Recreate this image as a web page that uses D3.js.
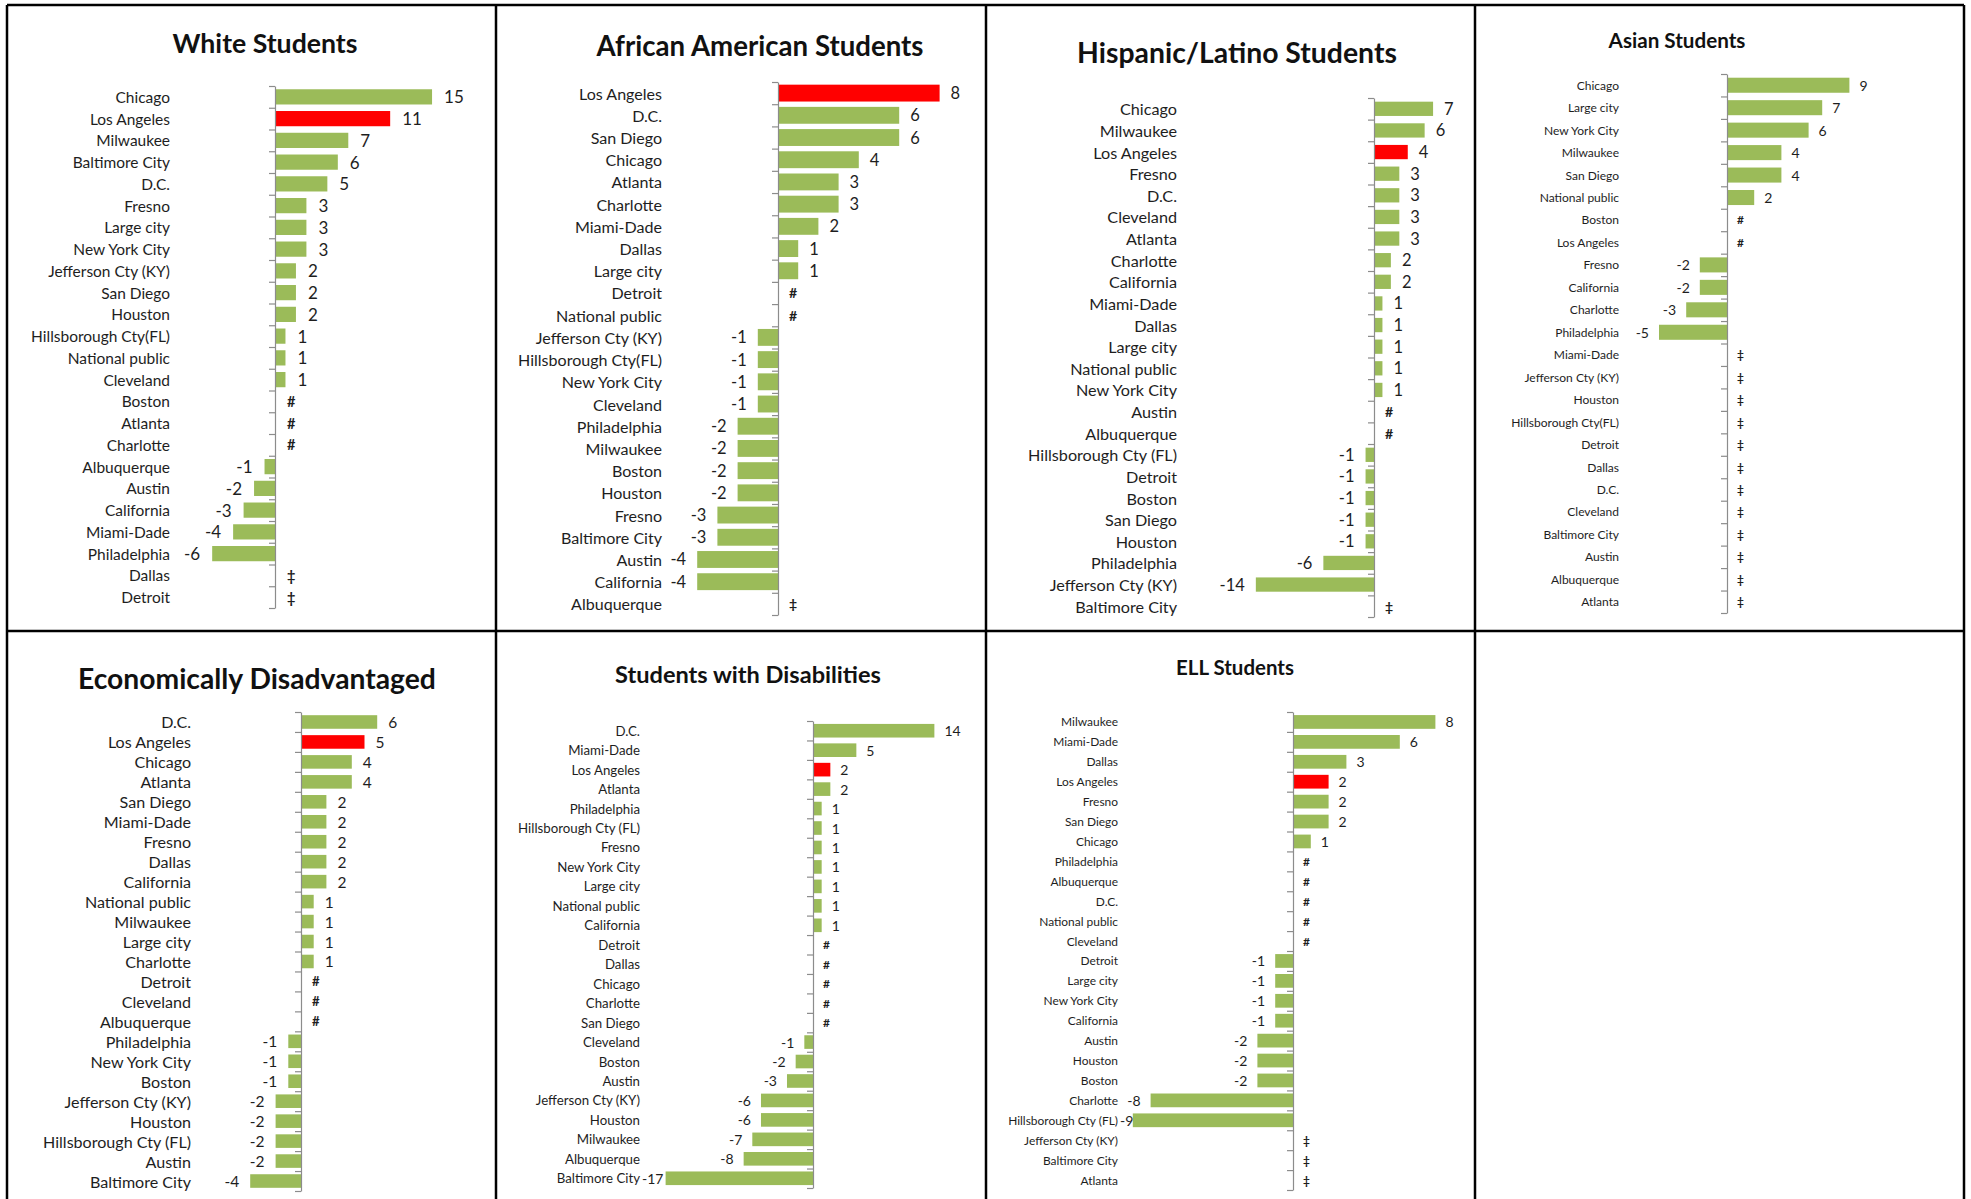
<!DOCTYPE html>
<html><head><meta charset="utf-8">
<script src="https://cdn.jsdelivr.net/npm/d3@7"></script>
<style>
body{margin:0;background:#fff}
svg{display:block}
text{font-family:Lato,"Open Sans","Liberation Sans",sans-serif}
</style>
</head><body>
<svg id="c" width="1971" height="1199"></svg>
<script>
// ---------- DATA ----------
const titles = ["White Students","African American Students","Hispanic/Latino Students","Asian Students",
  "Economically Disadvantaged","Students with Disabilities","ELL Students"];

const whiteCities = ["Chicago","Los Angeles","Milwaukee","Baltimore City","D.C.","Fresno","Large city","New York City",
  "Jefferson Cty (KY)","San Diego","Houston","Hillsborough Cty(FL)","National public","Cleveland","Boston","Atlanta",
  "Charlotte","Albuquerque","Austin","California","Miami-Dade","Philadelphia","Dallas","Detroit"];
const whiteValues = [15,11,7,6,5,3,3,3,2,2,2,1,1,1,"#","#","#",-1,-2,-3,-4,-6,"‡","‡"];

const aaCities = ["Los Angeles","D.C.","San Diego","Chicago","Atlanta","Charlotte","Miami-Dade","Dallas","Large city",
  "Detroit","National public","Jefferson Cty (KY)","Hillsborough Cty(FL)","New York City","Cleveland","Philadelphia",
  "Milwaukee","Boston","Houston","Fresno","Baltimore City","Austin","California","Albuquerque"];
const aaValues = [8,6,6,4,3,3,2,1,1,"#","#",-1,-1,-1,-1,-2,-2,-2,-2,-3,-3,-4,-4,"‡"];

const hispCities = ["Chicago","Milwaukee","Los Angeles","Fresno","D.C.","Cleveland","Atlanta","Charlotte","California",
  "Miami-Dade","Dallas","Large city","National public","New York City","Austin","Albuquerque","Hillsborough Cty (FL)",
  "Detroit","Boston","San Diego","Houston","Philadelphia","Jefferson Cty (KY)","Baltimore City"];
const hispValues = [7,6,4,3,3,3,3,2,2,1,1,1,1,1,"#","#",-1,-1,-1,-1,-1,-6,-14,"‡"];

const asianCities = ["Chicago","Large city","New York City","Milwaukee","San Diego","National public","Boston","Los Angeles",
  "Fresno","California","Charlotte","Philadelphia","Miami-Dade","Jefferson Cty (KY)","Houston","Hillsborough Cty(FL)",
  "Detroit","Dallas","D.C.","Cleveland","Baltimore City","Austin","Albuquerque","Atlanta"];
const asianValues = [9,7,6,4,4,2,"#","#",-2,-2,-3,-5,"‡","‡","‡","‡","‡","‡","‡","‡","‡","‡","‡","‡"];

const econCities = ["D.C.","Los Angeles","Chicago","Atlanta","San Diego","Miami-Dade","Fresno","Dallas","California",
  "National public","Milwaukee","Large city","Charlotte","Detroit","Cleveland","Albuquerque","Philadelphia",
  "New York City","Boston","Jefferson Cty (KY)","Houston","Hillsborough Cty (FL)","Austin","Baltimore City"];
const econValues = [6,5,4,4,2,2,2,2,2,1,1,1,1,"#","#","#",-1,-1,-1,-2,-2,-2,-2,-4];

const swdCities = ["D.C.","Miami-Dade","Los Angeles","Atlanta","Philadelphia","Hillsborough Cty (FL)","Fresno",
  "New York City","Large city","National public","California","Detroit","Dallas","Chicago","Charlotte","San Diego",
  "Cleveland","Boston","Austin","Jefferson Cty (KY)","Houston","Milwaukee","Albuquerque","Baltimore City"];
const swdValues = [14,5,2,2,1,1,1,1,1,1,1,"#","#","#","#","#",-1,-2,-3,-6,-6,-7,-8,-17];

const ellCities = ["Milwaukee","Miami-Dade","Dallas","Los Angeles","Fresno","San Diego","Chicago","Philadelphia",
  "Albuquerque","D.C.","National public","Cleveland","Detroit","Large city","New York City","California","Austin",
  "Houston","Boston","Charlotte","Hillsborough Cty (FL)","Jefferson Cty (KY)","Baltimore City","Atlanta"];
const ellValues = [8,6,3,2,2,2,1,"#","#","#","#","#",-1,-1,-1,-1,-2,-2,-2,-8,-9,"‡","‡","‡"];

const highlightCity = "Los Angeles";

// ---------- LAYOUT (positions / sizes / styles) ----------
const layout = [
  {axisX:275, top:86, bottom:608, ppu:10.47, labelRight:170, tx:265, ty:43, titleW:185, catW:139, vSize:17, gap:12, pad:0.3},
  {axisX:778, top:82, bottom:615, ppu:20.2, labelRight:662, tx:760, ty:45, titleW:327, catW:144, vSize:16.5, gap:11, pad:0.24},
  {axisX:1374, top:98, bottom:617, ppu:8.44, labelRight:1177, tx:1237, ty:52, titleW:320, catW:149, vSize:16.5, gap:11, pad:0.34},
  {axisX:1727, top:74, bottom:613, ppu:13.6, labelRight:1619, tx:1677, ty:40, titleW:137, catW:108, vSize:14, gap:10, pad:0.33},
  {axisX:301, top:712, bottom:1191, ppu:12.7, labelRight:191, tx:257, ty:678, titleW:358, catW:148, vSize:15.5, gap:11, pad:0.32},
  {axisX:813, top:721, bottom:1188, ppu:8.67, labelRight:640, tx:748, ty:674, titleW:266, catW:122, vSize:14, gap:10, pad:0.3},
  {axisX:1293, top:712, bottom:1190, ppu:17.8, labelRight:1118, tx:1235, ty:667, titleW:118, catW:110, vSize:14, gap:10, pad:0.31}
];
const cityLists = [whiteCities, aaCities, hispCities, asianCities, econCities, swdCities, ellCities];
const valueLists = [whiteValues, aaValues, hispValues, asianValues, econValues, swdValues, ellValues];

const GREEN = "#9bbb59", RED = "#ff0000", TEXT = "#1e1e1e";
const BASE = 20;

const svg = d3.select("#c");

// table grid
const gridX = [7, 496, 986, 1475, 1964];
const gridY = [5, 631];
const grid = svg.append("g").attr("stroke","#000").attr("stroke-width",2.5);
gridX.forEach(x => grid.append("line").attr("x1",x).attr("x2",x).attr("y1",gridY[0]).attr("y2",1199));
gridY.forEach(y => grid.append("line").attr("x1",gridX[0]).attr("x2",gridX[4]).attr("y1",y).attr("y2",y));

layout.forEach((L, i) => {
  const cats = cityLists[i], vals = valueLists[i];
  const data = cats.map((c, k) => ({city:c, v:vals[k]}));
  const nums = vals.map(v => typeof v === "number" ? v : 0);
  const lo = Math.min(0, d3.min(nums)), hi = Math.max(0, d3.max(nums));
  const x = d3.scaleLinear().domain([lo, hi]).range([L.axisX + lo*L.ppu, L.axisX + hi*L.ppu]);
  const y = d3.scaleBand().domain(cats).range([L.top, L.bottom]).paddingInner(L.pad).paddingOuter(L.pad/2);
  const idx = d3.scaleLinear().domain([0, cats.length]).range([L.top, L.bottom]);

  const g = svg.append("g");

  // title, sized to the reference's width
  const t = g.append("text").attr("x", L.tx).attr("y", L.ty).attr("text-anchor","middle").attr("dominant-baseline","central")
    .attr("font-size", BASE).attr("font-weight", 700).attr("fill", "#111").text(titles[i]);
  t.attr("font-size", BASE * L.titleW / t.node().getComputedTextLength());

  // bars
  g.selectAll("rect").data(data.filter(d => typeof d.v === "number" && d.v !== 0)).join("rect")
    .attr("x", d => x(Math.min(0, d.v)))
    .attr("width", d => Math.abs(x(d.v) - x(0)))
    .attr("y", d => y(d.city))
    .attr("height", y.bandwidth())
    .attr("fill", d => d.city === highlightCity ? RED : GREEN);

  // category axis (ticks between categories)
  const ax = g.append("g").attr("transform", `translate(${x(0)},0)`)
    .call(d3.axisLeft(idx).tickValues(d3.range(cats.length + 1)).tickSize(6).tickSizeOuter(0).tickFormat(""));
  ax.selectAll("path,line").attr("stroke", "#8c8c8c").attr("stroke-width", 1.2);

  // category labels, sized so the widest one matches the reference
  const labels = g.selectAll("text.cat").data(data).join("text").attr("class","cat")
    .attr("x", L.labelRight).attr("y", d => y(d.city) + y.bandwidth()/2)
    .attr("text-anchor","end").attr("dominant-baseline","central")
    .attr("font-size", BASE).attr("fill", TEXT).text(d => d.city);
  const maxW = d3.max(labels.nodes(), n => n.getComputedTextLength());
  labels.attr("font-size", BASE * L.catW / maxW);

  // value labels
  const isNum = v => typeof v === "number";
  const vl = g.selectAll("text.val").data(data).join("text").attr("class","val")
    .attr("y", d => y(d.city) + y.bandwidth()/2)
    .attr("text-anchor", "start")
    .attr("dominant-baseline","central")
    .attr("font-size", d => isNum(d.v) ? L.vSize : L.vSize * 0.85)
    .attr("font-weight", d => isNum(d.v) ? 400 : 700)
    .attr("fill", TEXT).text(d => d.v);
  vl.attr("x", function(d) {
    if (isNum(d.v) && d.v < 0) {
      const w = this.getComputedTextLength();
      // keep the number clear of the category label, as the original does when space is short
      return Math.max(x(d.v) - L.gap - w, L.labelRight + 2);
    }
    return x(isNum(d.v) ? d.v : 0) + L.gap;
  });
});
</script>
</body></html>
